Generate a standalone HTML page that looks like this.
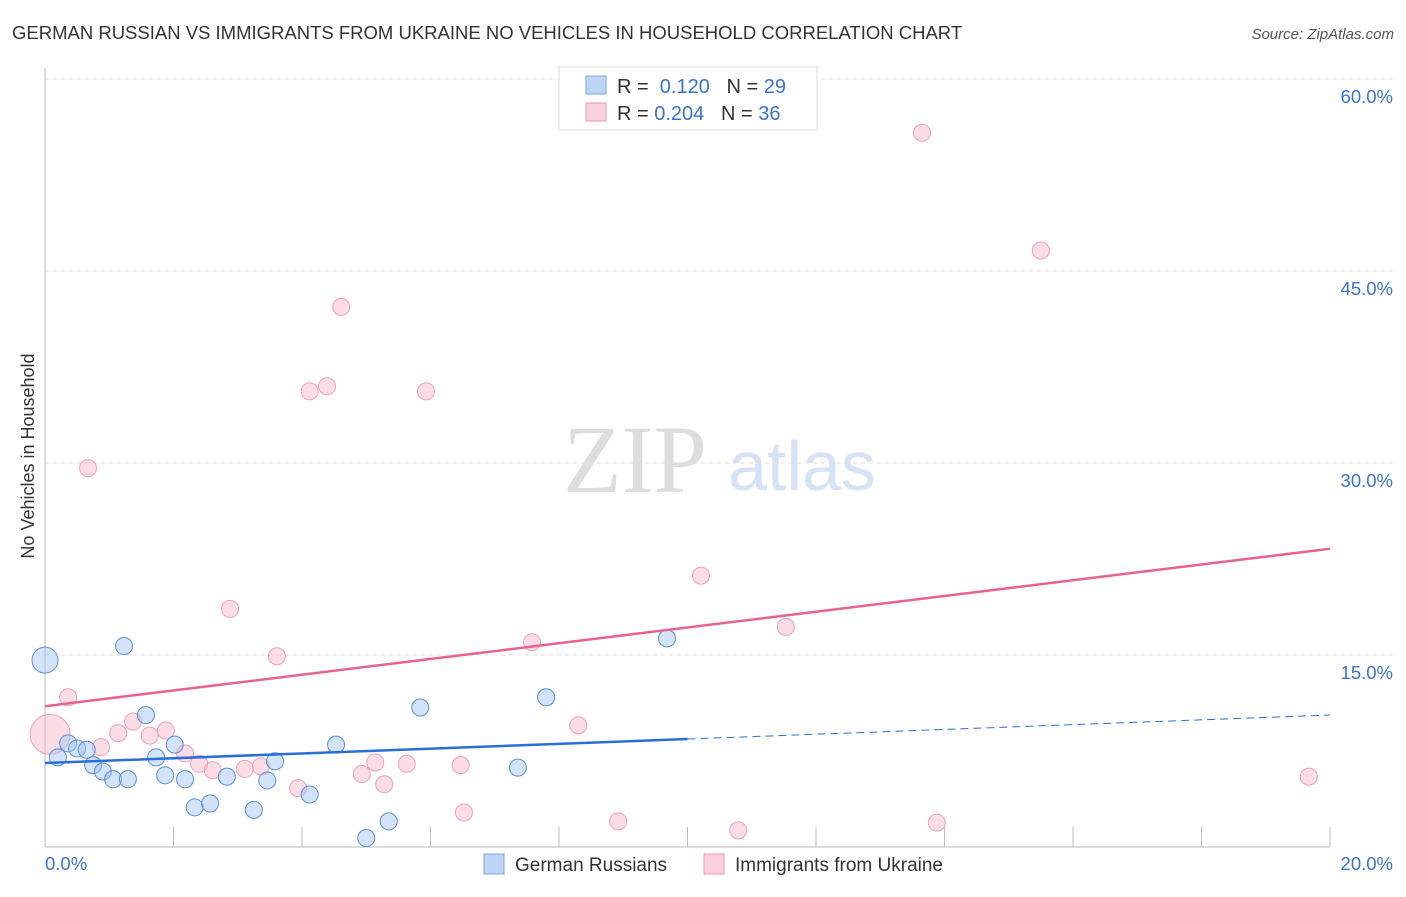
<!DOCTYPE html>
<html><head><meta charset="utf-8"><style>
body{margin:0;background:#fff;font-family:"Liberation Sans",sans-serif}
</style></head><body>
<svg id="c" width="1406" height="892" font-family="Liberation Sans, sans-serif">
<text x="12" y="39" font-size="18.5" fill="#333">GERMAN RUSSIAN VS IMMIGRANTS FROM UKRAINE NO VEHICLES IN HOUSEHOLD CORRELATION CHART</text>
<text x="1394" y="39" font-size="15" fill="#555" text-anchor="end" font-style="italic">Source: ZipAtlas.com</text>
<text x="635" y="492" font-size="96" fill="#ddd" text-anchor="middle" style="font-family:'Liberation Serif',serif">ZIP</text>
<text x="802" y="490" font-size="70" fill="#d5e3f5" text-anchor="middle">atlas</text>
<text transform="translate(34,456) rotate(-90)" font-size="18" fill="#333" text-anchor="middle">No Vehicles in Household</text>
<g id="grid"></g><g id="marks"></g>
<g>
<rect x="559" y="67" width="258" height="63" fill="#fff" stroke="#ddd"/>
<rect x="586" y="76" width="20" height="18" fill="#bcd5f5" stroke="#7aa6e0"/>
<text x="617" y="93" font-size="20" fill="#333">R = <tspan fill="#3a73d0">&#160;0.120</tspan>&#160;&#160;&#160;N = <tspan fill="#3a73d0">29</tspan></text>
<rect x="586" y="103" width="20" height="18" fill="#fad0dc" stroke="#ee9ab3"/>
<text x="617" y="120" font-size="20" fill="#333">R = <tspan fill="#3a73d0">0.204</tspan>&#160;&#160;&#160;N = <tspan fill="#3a73d0">36</tspan></text>
</g>
<g>
<rect x="484" y="854" width="20" height="20" fill="#bcd5f5" stroke="#7aa6e0"/>
<text x="515" y="871" font-size="19" fill="#333">German Russians</text>
<rect x="704" y="854" width="20" height="20" fill="#fad0dc" stroke="#ee9ab3"/>
<text x="735" y="871" font-size="19" fill="#333">Immigrants from Ukraine</text>
</g>
</svg>
<script>
const yTicks=[15,30,45,60];
const yTickLabels=["15.0%","30.0%","45.0%","60.0%"];
const blueX=[0,1.23,1.57,0.36,0.20,0.50,0.65,0.75,0.90,1.06,1.29,1.73,1.87,2.02,2.18,2.33,2.57,2.83,3.25,3.46,3.58,4.12,4.53,5.00,5.35,5.84,7.36,7.80,9.68];
const blueY=[14.6,15.7,10.3,8.1,7.0,7.7,7.6,6.4,5.9,5.3,5.3,7.0,5.6,8.0,5.3,3.1,3.4,5.5,2.9,5.2,6.7,4.1,8.0,0.7,2.0,10.9,6.2,11.7,16.3];
const pinkX=[0.08,0.36,0.67,0.87,1.14,1.37,1.63,1.88,2.18,2.40,2.61,2.88,3.11,3.36,3.61,3.94,4.12,4.39,4.61,4.93,5.14,5.28,5.63,5.93,6.47,6.52,7.58,8.30,8.92,10.21,10.79,11.53,13.65,13.88,15.50,19.67];
const pinkY=[8.8,11.7,29.6,7.8,8.9,9.8,8.7,9.1,7.3,6.5,6.0,18.6,6.1,6.3,14.9,4.6,35.6,36.0,42.2,5.7,6.6,4.9,6.5,35.6,6.4,2.7,16.0,9.5,2.0,21.2,1.3,17.2,55.8,1.9,46.6,5.5];
const blueTrend=[6.56,10.31];
const pinkTrend=[11.0,23.3];
const NS="http://www.w3.org/2000/svg";
const X=v=>45+v/20*1285, Y=v=>847-v*12.8;
function mk(t,a,p){const e=document.createElementNS(NS,t);for(const k in a)e.setAttribute(k,a[k]);p.appendChild(e);return e;}
const g=document.getElementById('grid'), m=document.getElementById('marks');
yTicks.forEach((t,i)=>{
 const l=mk('line',{x1:45,x2:1393,y1:Y(t),y2:Y(t),stroke:'#ddd','stroke-dasharray':'4,4'},g);
 
 
 const tx=mk('text',{x:1393,y:Y(t)+24,'font-size':18.5,fill:'#3a73d0','text-anchor':'end'},g);
 tx.textContent=yTickLabels[i];
 
 
});
for(let i=1;i<=10;i++){const t=mk('line',{x1:X(i*2),x2:X(i*2),y1:827,y2:847,stroke:'#bbb'},g);
 
 }
mk('line',{x1:45,x2:45,y1:68,y2:847,stroke:'#bbb'},g);
mk('line',{x1:45,x2:1330,y1:847,y2:847,stroke:'#bbb'},g);
const xl0=mk('text',{x:45,y:870,'font-size':18.5,fill:'#3a73d0'},g);xl0.textContent='0.0%';


const xl1=mk('text',{x:1393,y:870,'font-size':18.5,fill:'#3a73d0','text-anchor':'end'},g);xl1.textContent='20.0%';


pinkX.forEach((x,i)=>{const c=mk('circle',{cx:X(x),cy:Y(pinkY[i]),r:i==0?20:8.5,fill:'rgba(248,180,200,0.45)',stroke:'#eea0b8','stroke-width':1},m);
 
 });
blueX.forEach((x,i)=>{const c=mk('circle',{cx:X(x),cy:Y(blueY[i]),r:i==0?13:8.5,fill:'rgba(160,196,240,0.45)',stroke:'#5b8fd8','stroke-width':1},m);
 
 });
const bt=v=>blueTrend[0]+(blueTrend[1]-blueTrend[0])*v/20;
const l1=mk('line',{x1:X(0),y1:Y(bt(0)),x2:X(10),y2:Y(bt(10)),stroke:'#2a6fd6','stroke-width':2.5},m);


const l2=mk('line',{x1:X(10),y1:Y(bt(10)),x2:X(20),y2:Y(bt(20)),stroke:'#2a6fd6','stroke-width':1,'stroke-dasharray':'8,5'},m);


const l3=mk('line',{x1:X(0),y1:Y(pinkTrend[0]),x2:X(20),y2:Y(pinkTrend[1]),stroke:'#e8628e','stroke-width':2.5},m);


</script>
</body></html>
